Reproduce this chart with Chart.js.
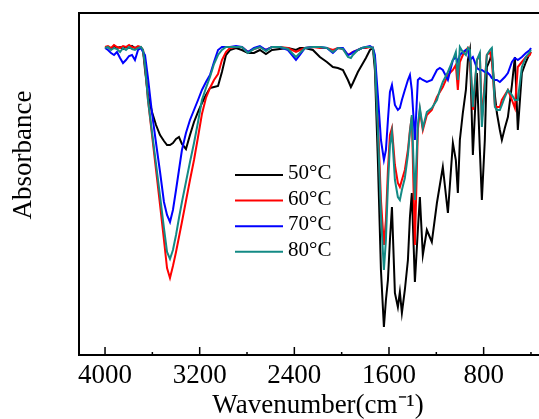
<!DOCTYPE html>
<html>
<head>
<meta charset="utf-8">
<title>FTIR spectra</title>
<script src="https://cdn.jsdelivr.net/npm/chart.js@4.4.0/dist/chart.umd.min.js"></script>
<style>
  html, body { margin: 0; padding: 0; overflow: hidden; background: #fff; }
  canvas { display: block; }
</style>
</head>
<body>
<canvas id="ftir-chart" width="570" height="419"></canvas>
<script>
const wavenumbers = [
  4000, 3975, 3949, 3924, 3899, 3873, 3848, 3823, 3797, 3772, 3747, 3721, 3696, 3679,
  3662, 3637, 3603, 3569, 3535, 3502, 3476, 3451, 3426, 3400, 3375, 3350, 3316, 3282,
  3248, 3214, 3181, 3147, 3113, 3079, 3045, 3012, 2978, 2944,
  2893, 2843, 2792, 2741, 2691, 2640, 2589, 2522, 2454, 2386, 2353, 2310, 2243, 2184,
  2125, 2074, 2032, 1989, 1947, 1922, 1905, 1863, 1829, 1795, 1761,
  1736, 1719, 1694, 1668, 1643, 1626, 1609, 1592, 1575, 1550, 1525, 1508, 1491, 1466,
  1440, 1423, 1407, 1381, 1356, 1339, 1314, 1280, 1238, 1195, 1170, 1145, 1102, 1060,
  1035, 1018, 1001, 976, 950, 933, 916, 891, 857, 832, 815, 790, 773, 747, 731, 705,
  688, 663, 646, 621, 595, 561, 536, 511, 477, 443, 410, 400
];

// absorbance, arbitrary units (0 = bottom of frame, 342 = top of frame)
const abs50 = [
  307, 308, 306, 309, 307, 308, 306, 308, 307, 309, 307, 308, 307, 305,
  285, 260, 243, 230, 220, 214, 210, 210, 212, 216, 218, 211, 206, 220, 233, 243, 252, 260, 267, 268, 269, 283, 300, 305,
  307, 305, 302, 302, 305, 301, 305, 306, 307, 305, 307, 307, 305, 298, 293, 288, 287, 285, 275, 268, 272, 283, 290, 297, 305,
  307, 285, 195, 85, 28, 55, 75, 115, 148, 62, 48, 63, 42, 65, 95, 138, 162, 73, 125, 158, 100, 125, 113, 152, 170, 188,
  142, 212, 195, 162, 215, 242, 265, 295, 305, 200, 282, 205, 155, 215, 288, 295, 302, 260, 242, 225, 215, 227, 238, 270,
  298, 225, 282, 293, 302, 303
];
const abs60 = [
  308, 309, 307, 310, 308, 307, 309, 308, 310, 308, 307, 309, 308, 305,
  290, 255, 220, 185, 150, 115, 87, 77, 89, 103, 118, 133, 154, 175, 195, 218, 241, 257, 267, 275, 281, 295, 303, 307,
  308, 308, 303, 306, 308, 305, 308, 308, 307, 303, 305, 307, 308, 307, 307, 305, 307, 306, 300, 302, 303, 305, 307, 307, 308,
  307, 295, 235, 155, 110, 135, 185, 220, 227, 190, 172, 168, 175, 185, 205, 225, 238, 110, 225, 245, 225, 240, 245, 258, 263, 268,
  280, 285, 290, 265, 293, 300, 305, 307, 300, 245, 295, 300, 235, 275, 300, 303, 295, 250, 248, 248, 255, 260, 265, 255,
  247, 288, 293, 298, 300, 303
];
const abs70 = [
  307, 305, 302, 300, 303, 297, 292, 295, 299, 300, 295, 305, 307, 303,
  300, 277, 242, 212, 183, 153, 140, 133, 145, 165, 185, 205, 222, 235, 245, 255, 265, 273, 280, 293, 305, 308, 308, 308,
  309, 308, 303, 307, 309, 305, 308, 308, 305, 295, 300, 307, 308, 308, 307, 302, 307, 307, 300, 301, 303, 305, 307, 308, 309,
  307, 300, 260, 215, 195, 205, 235, 263, 270, 250, 245, 247, 255, 265, 275, 280, 265, 215, 275, 277, 275, 273, 275, 285, 287, 285,
  275, 295, 298, 293, 300, 303, 305, 305, 295, 298, 287, 285, 285, 283, 283, 280, 277, 275, 275, 273, 275, 278, 282, 293,
  297, 295, 298, 302, 305, 307
];
const abs80 = [
  307, 308, 305, 307, 306, 303, 307, 305, 308, 306, 305, 307, 308, 305,
  290, 255, 223, 191, 159, 127, 103, 96, 105, 120, 137, 153, 173, 193, 212, 233, 255, 267, 278, 291, 300, 305, 308, 308,
  308, 308, 302, 306, 308, 304, 308, 308, 306, 298, 302, 307, 308, 308, 307, 303, 307, 306, 298, 297, 300, 305, 307, 308, 308,
  307, 293, 225, 140, 85, 115, 170, 210, 223, 175, 158, 155, 165, 177, 200, 223, 240, 155, 230, 247, 227, 243, 247, 255, 265, 273,
  283, 295, 303, 275, 308, 303, 300, 307, 305, 248, 295, 302, 228, 270, 300, 305, 307, 248, 245, 245, 250, 258, 265, 260,
  255, 255, 288, 298, 303, 305
];

const seriesLabels = ["50°C", "60°C", "70°C", "80°C"];
const seriesColors = ["#000000", "#ff0000", "#0000ff", "#138a85"];
const majorTicks = [4000, 3200, 2400, 1600, 800];
const minorTicks = [3600, 2800, 2000, 1200, 400];

const serif = "'Liberation Serif', 'Times New Roman', serif";

function toPoints(values) {
  return wavenumbers.map((w, i) => ({ x: w, y: values[i] }));
}

// frame, inward ticks, y title and the legend box inside the plot
const framePlugin = {
  id: "frame",
  afterDatasetsDraw(chart) {
    const { ctx, chartArea: a, scales } = chart;
    ctx.save();
    ctx.strokeStyle = "#000";
    ctx.lineWidth = 2;
    ctx.strokeRect(a.left, a.top, a.right - a.left, a.bottom - a.top);

    ctx.lineWidth = 1.5;
    scales.x.ticks.forEach(t => {
      const x = scales.x.getPixelForValue(t.value);
      const len = majorTicks.includes(t.value) ? 8 : 3;
      ctx.beginPath();
      ctx.moveTo(x, a.bottom);
      ctx.lineTo(x, a.bottom - len);
      ctx.stroke();
    });

    ctx.fillStyle = "#000";
    ctx.textAlign = "center";
    ctx.textBaseline = "middle";
    ctx.font = "27px " + serif;
    ctx.save();
    ctx.translate(24, 155);
    ctx.rotate(-Math.PI / 2);
    ctx.fillText("Absorbance", 0, 0);
    ctx.restore();

    ctx.textAlign = "left";
    ctx.font = "21px " + serif;
    chart.data.datasets.forEach((ds, i) => {
      const y = 175 + i * 25.6;
      ctx.strokeStyle = ds.borderColor;
      ctx.lineWidth = 2;
      ctx.beginPath();
      ctx.moveTo(235, y);
      ctx.lineTo(283, y);
      ctx.stroke();
      ctx.fillStyle = "#000";
      ctx.fillText(ds.label, 288, y - 1.5);
    });
    ctx.restore();
  }
};

function createSpectraChart() {
  const context = document.querySelector("#ftir-chart").getContext("2d");
  const datasets = [abs50, abs60, abs70, abs80].map((vals, i) => ({
    label: seriesLabels[i],
    data: toPoints(vals),
    borderColor: seriesColors[i],
    borderWidth: 2,
    pointRadius: 0,
    tension: 0,
    fill: false,
    order: 4 - i
  }));

  new Chart(context, {
    type: "line",
    data: { datasets: datasets },
    options: {
      responsive: false,
      animation: false,
      events: [],
      layout: { padding: { left: 79, top: 13, right: 13, bottom: 0 } },
      plugins: {
        legend: { display: false },
        tooltip: { enabled: false }
      },
      scales: {
        x: {
          type: "linear",
          reverse: true,
          min: 180,
          max: 4220,
          afterBuildTicks: s => {
            s.ticks = majorTicks.concat(minorTicks).sort((a, b) => b - a).map(v => ({ value: v }));
          },
          afterFit: s => { s.height = 64; },
          grid: { display: false, drawTicks: false },
          border: { display: false },
          ticks: {
            autoSkip: false,
            maxRotation: 0,
            padding: 7,
            color: "#000",
            font: { family: serif, size: 27, lineHeight: 1 },
            callback: v => (majorTicks.includes(v) ? String(v) : "")
          },
          title: {
            display: true,
            text: "Wavenumber(cm⁻¹)",
            color: "#000",
            padding: { top: 0, bottom: 0 },
            font: { family: serif, size: 27, lineHeight: 1 }
          }
        },
        y: {
          display: false,
          min: 0,
          max: 342
        }
      }
    },
    plugins: [framePlugin]
  });
}

createSpectraChart();
</script>
</body>
</html>
